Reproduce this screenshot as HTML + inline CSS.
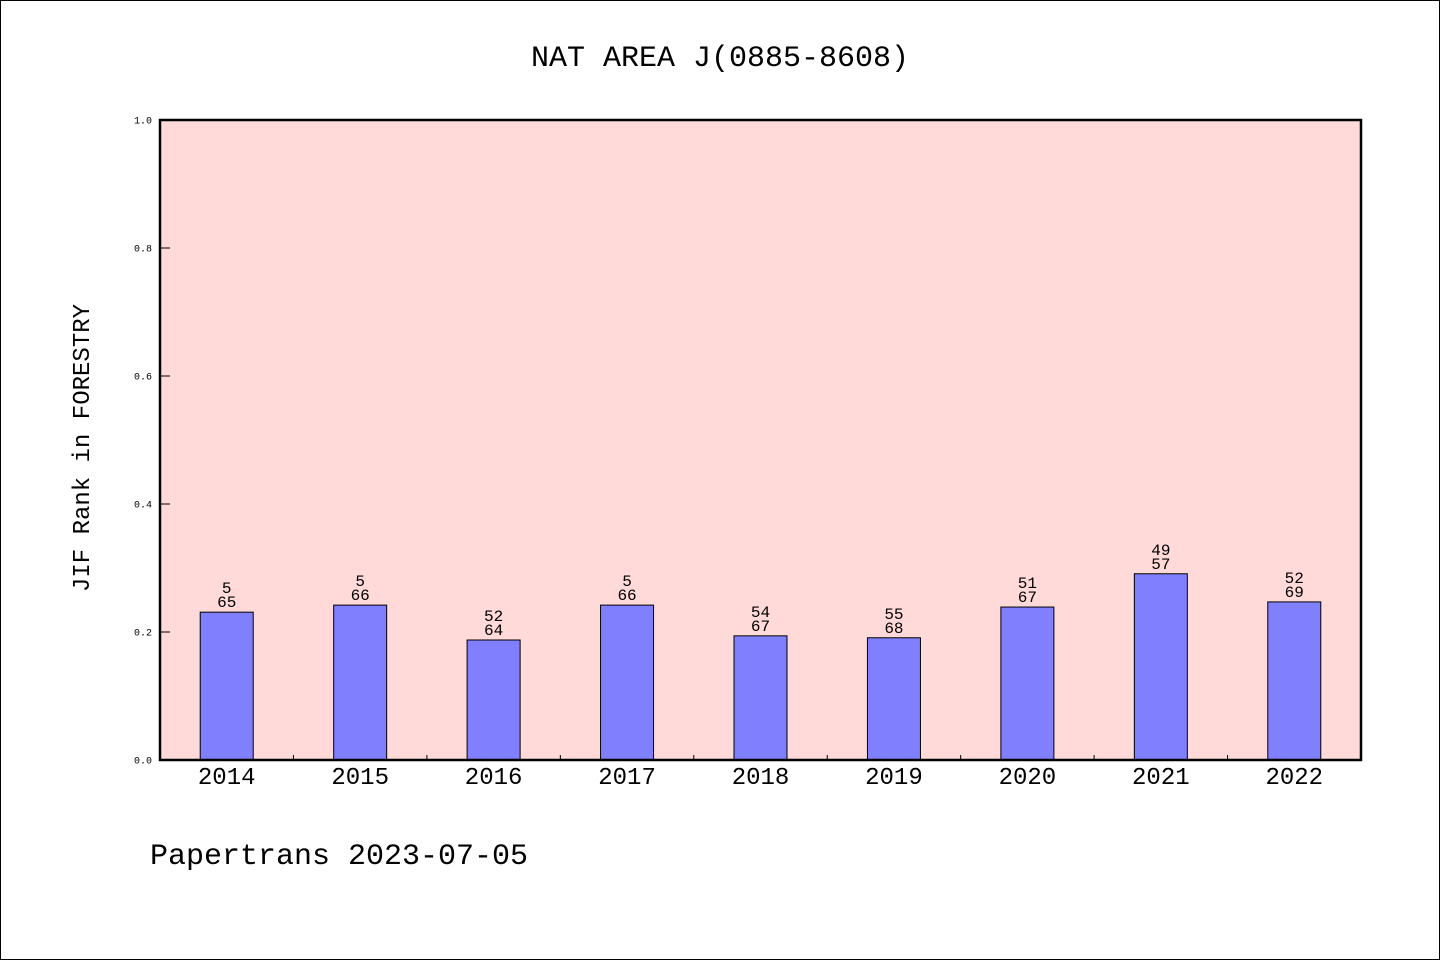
<!DOCTYPE html>
<html><head><meta charset="utf-8"><style>
html,body{margin:0;padding:0;background:#fff}
svg{display:block}
text{font-family:"WenQuanYi Zen Hei","Liberation Mono",monospace;fill:#000}
</style></head><body>
<svg id="chart" width="1440" height="960">
<rect x="0.5" y="0.5" width="1439" height="959" fill="#fff" stroke="#000"/>
<text x="720" y="66" font-size="30" text-anchor="middle">NAT AREA J(0885-8608)</text>
<rect x="160" y="120" width="1201" height="640" fill="#ffdad8"/>
<g id="bars"></g>
<rect x="160" y="120" width="1201" height="640" fill="none" stroke="#000" stroke-width="2.5"/>
<g id="axes"></g>
<text transform="translate(89,448) rotate(-90)" font-size="24" text-anchor="middle">JIF Rank in FORESTRY</text>
<text x="150" y="864" font-size="30">Papertrans 2023-07-05</text>
</svg>
<script>
const categories=["2014","2015","2016","2017","2018","2019","2020","2021","2022"];
const values=[0.231,0.242,0.1875,0.242,0.194,0.191,0.239,0.291,0.247];
const ranks=["5","5","52","5","54","55","51","49","52"];
const totals=["65","66","64","66","67","68","67","57","69"];
const yTicks=[0,0.2,0.4,0.6,0.8,1.0];
const yTickLabels=["0.0","0.2","0.4","0.6","0.8","1.0"];
const NS="http://www.w3.org/2000/svg";
const X0=160,X1=1361,Y0=760,Y1=120;
const band=(X1-X0)/categories.length;
const xc=i=>X0+band*(i+0.5);
const y=v=>Y0-(Y0-Y1)*v;
function mk(tag,attrs,parent){const e=document.createElementNS(NS,tag);for(const k in attrs)e.setAttribute(k,attrs[k]);parent.appendChild(e);return e;}
const bars=document.getElementById('bars'),axes=document.getElementById('axes');
categories.forEach((c,i)=>{
 const top=y(values[i]);
 const r=mk('rect',{x:xc(i)-26.5,y:top,width:53,height:Y0-top,fill:'#8080ff',stroke:'#000','stroke-width':1},bars);
 
 
 const t1=mk('text',{x:xc(i),y:top-19,'font-size':16,'text-anchor':'middle'},bars);t1.textContent=ranks[i];
 
 
 const t2=mk('text',{x:xc(i),y:top-5,'font-size':16,'text-anchor':'middle'},bars);t2.textContent=totals[i];
 
 
 const xl=mk('text',{x:xc(i),y:784,'font-size':24,'text-anchor':'middle'},axes);xl.textContent=c;
 
 
 if(i>0){const tk=mk('line',{x1:X0+band*i,x2:X0+band*i,y1:Y0,y2:Y0-5,stroke:'#000'},axes);
 
 }
});
yTicks.forEach((v,i)=>{
 const tk=mk('line',{x1:X0,x2:X0+10,y1:y(v),y2:y(v),stroke:'#000'},axes);
 
 
 const tl=mk('text',{x:152,y:y(v)+3.5,'font-size':10,'text-anchor':'end'},axes);tl.textContent=yTickLabels[i];
 
 
});
</script>
</body></html>
